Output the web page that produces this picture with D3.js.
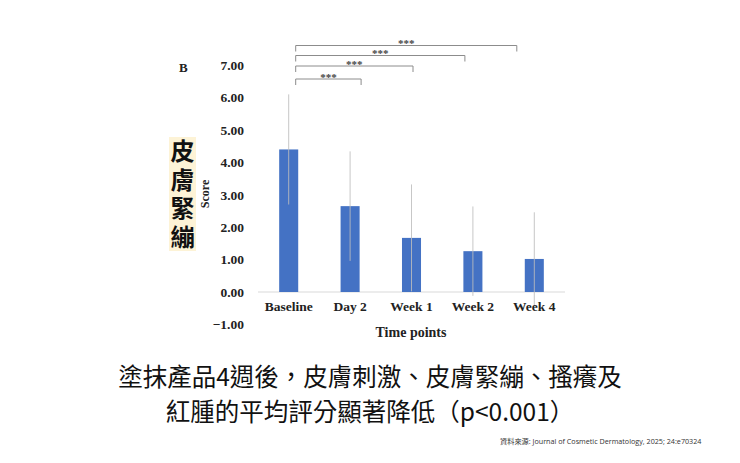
<!DOCTYPE html>
<html>
<head>
<meta charset="utf-8">
<script src="https://cdn.jsdelivr.net/npm/d3@7/dist/d3.min.js"></script>
<style>
  html, body { margin: 0; padding: 0; background: #fff; }
  svg { display: block; }
</style>
</head>
<body>
<div id="chart"></div>
<script>
// values
const categories = ['Baseline', 'Day 2', 'Week 1', 'Week 2', 'Week 4'];
const means = [4.40, 2.65, 1.67, 1.26, 1.02];
const sds = [1.70, 1.69, 1.65, 1.38, 1.44];
const yTicks = [-1, 0, 1, 2, 3, 4, 5, 6, 7];
// significance brackets, all against Baseline (drawn outermost first)
const brackets = [
  { from: 0, to: 4, label: '***' },
  { from: 0, to: 3, label: '***' },
  { from: 0, to: 2, label: '***' },
  { from: 0, to: 1, label: '***' }
];
const sideLabel = '皮膚緊繃';
const titleLines = ['塗抹產品4週後，皮膚刺激、皮膚緊繃、搔癢及', '紅腫的平均評分顯著降低（p<0.001）'];
const sourceText = '資料來源: Journal of Cosmetic Dermatology, 2025; 24:e70324';

const width = 740, height = 463;
const serif = '"Liberation Serif", "Times New Roman", serif';
const cjk = '"Noto Sans CJK TC", "Noto Sans CJK SC", sans-serif';

const svg = d3.select('#chart')
  .append('svg')
  .attr('width', width)
  .attr('height', height);

const x = d3.scaleBand()
  .domain(categories)
  .range([258, 565])
  .paddingInner(0.69)
  .paddingOuter(0.345);

const y = d3.scaleLinear()
  .domain([-1, 7])
  .range([324.4, 65.2]);

const center = i => x(categories[i]) + x.bandwidth() / 2;

// baseline axis line at 0
svg.append('line')
  .attr('x1', 258).attr('x2', 565)
  .attr('y1', y(0)).attr('y2', y(0))
  .attr('stroke', '#d9d9d9')
  .attr('stroke-width', 1);

// y tick labels (axis line hidden like the original)
const yAxis = svg.append('g')
  .attr('transform', 'translate(250,0)')
  .call(d3.axisLeft(y).tickValues(yTicks).tickSize(0).tickPadding(6).tickFormat(d3.format('.2f')));
yAxis.select('.domain').remove();
yAxis.selectAll('text')
  .attr('font-family', serif)
  .attr('font-weight', 'bold')
  .attr('font-size', 13.5)
  .attr('fill', '#222');

// bars
svg.selectAll('rect.bar')
  .data(means)
  .join('rect')
  .attr('class', 'bar')
  .attr('x', (d, i) => x(categories[i]))
  .attr('width', x.bandwidth())
  .attr('y', d => y(d))
  .attr('height', d => y(0) - y(d))
  .attr('fill', '#4472c4');

// error bars (symmetric, line through bar)
svg.selectAll('line.err')
  .data(means)
  .join('line')
  .attr('class', 'err')
  .attr('x1', (d, i) => center(i))
  .attr('x2', (d, i) => center(i))
  .attr('y1', (d, i) => y(d + sds[i]))
  .attr('y2', (d, i) => y(d - sds[i]))
  .attr('stroke', '#bdbdbd')
  .attr('stroke-opacity', 0.85)
  .attr('stroke-width', 1);

// category labels
svg.selectAll('text.cat')
  .data(categories)
  .join('text')
  .attr('class', 'cat')
  .attr('x', d => x(d) + x.bandwidth() / 2)
  .attr('y', 311)
  .attr('text-anchor', 'middle')
  .attr('font-family', serif)
  .attr('font-weight', 'bold')
  .attr('font-size', 13.5)
  .attr('fill', '#222')
  .text(d => d);

// axis titles
svg.append('text')
  .attr('x', 411).attr('y', 337)
  .attr('text-anchor', 'middle')
  .attr('font-family', serif)
  .attr('font-weight', 'bold')
  .attr('font-size', 14)
  .attr('fill', '#222')
  .text('Time points');

svg.append('text')
  .attr('transform', 'translate(209,194) rotate(-90)')
  .attr('text-anchor', 'middle')
  .attr('font-family', serif)
  .attr('font-weight', 'bold')
  .attr('font-size', 12)
  .attr('fill', '#222')
  .text('Score');

svg.append('text')
  .attr('x', 179).attr('y', 72)
  .attr('font-family', serif)
  .attr('font-weight', 'bold')
  .attr('font-size', 13)
  .attr('fill', '#222')
  .text('B');

// significance brackets
const bTop = [45.5, 55.5, 66, 79];
const bg = svg.append('g');
brackets.forEach((b, k) => {
  const x1 = center(b.from) + 7;
  const x2 = center(b.to) + 20.5 - b.to * 9.5;
  const yy = bTop[k];
  bg.append('path')
    .attr('d', `M${x1},${yy + 6}V${yy}H${x2}V${yy + 6}`)
    .attr('fill', 'none')
    .attr('stroke', '#8c8c8c')
    .attr('stroke-width', 1);
  bg.append('text')
    .attr('x', (x1 + x2) / 2)
    .attr('y', yy + 1.5)
    .attr('text-anchor', 'middle')
    .attr('font-family', serif)
    .attr('font-weight', 'bold')
    .attr('font-size', 11)
    .attr('fill', '#444')
    .text(b.label);
});

// vertical Chinese label with highlight
svg.append('rect')
  .attr('x', 169).attr('y', 137)
  .attr('width', 27).attr('height', 114)
  .attr('fill', '#fdf3d6');
svg.append('text')
  .attr('x', 182.5)
  .attr('y', 139)
  .style('writing-mode', 'vertical-rl')
  .style('letter-spacing', '4.5px')
  .attr('font-family', cjk)
  .attr('font-weight', 'bold')
  .attr('font-size', 24)
  .attr('fill', '#111')
  .text(sideLabel);

// bottom title
svg.selectAll('text.title')
  .data(titleLines)
  .join('text')
  .attr('class', 'title')
  .attr('x', 370)
  .attr('y', (d, i) => 385.5 + i * 35.6)
  .attr('text-anchor', 'middle')
  .attr('font-family', cjk)
  .attr('font-size', 24.5)
  .attr('fill', '#111')
  .text(d => d);

svg.append('text')
  .attr('x', 500).attr('y', 444)
  .attr('font-family', '"Open Sans", "Noto Sans CJK TC", sans-serif')
  .attr('font-size', 7.2)
  .attr('fill', '#333')
  .text(sourceText);
</script>
</body>
</html>
